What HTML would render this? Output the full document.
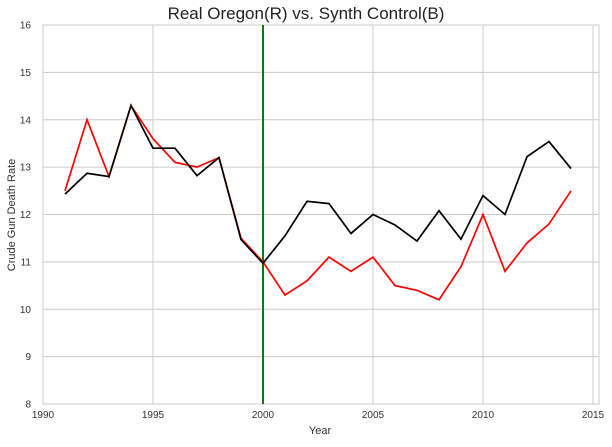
<!DOCTYPE html>
<html><head><meta charset="utf-8"><style>
body{margin:0;background:#fff;font-family:"Liberation Sans",sans-serif}
text{font-family:"Liberation Sans",sans-serif}
</style></head><body>
<svg id="c" width="612" height="442" xmlns="http://www.w3.org/2000/svg">
<text x="306" y="19" text-anchor="middle" font-size="17" fill="#222">Real Oregon(R) vs. Synth Control(B)</text>
<text x="320" y="434" text-anchor="middle" font-size="11" fill="#333">Year</text>
<text x="15" y="215" text-anchor="middle" font-size="11" fill="#333" transform="rotate(-90 15 215)">Crude Gun Death Rate</text>
<g id="grid"></g><g id="marks"></g>
</svg>
<script>
const years=[1991,1992,1993,1994,1995,1996,1997,1998,1999,2000,2001,2002,2003,2004,2005,2006,2007,2008,2009,2010,2011,2012,2013,2014];
const realOregon=[12.5,14.0,12.8,14.3,13.6,13.1,13.0,13.2,11.5,11.0,10.3,10.6,11.1,10.8,11.1,10.5,10.4,10.2,10.9,12.0,10.8,11.4,11.8,12.5];
const synthControl=[12.43,12.87,12.8,14.3,13.4,13.4,12.82,13.2,11.47,10.97,11.55,12.28,12.23,11.6,12.0,11.78,11.44,12.08,11.48,12.4,12.0,13.22,13.54,12.97];
const xTicks=[1990,1995,2000,2005,2010,2015];
const yTicks=[8,9,10,11,12,13,14,15,16];
const treatYear=2000;
const X=v=>43+(v-1990)*22, Y=v=>404-(v-8)*47.375;
const NS="http://www.w3.org/2000/svg";
const g=document.getElementById('grid'),m=document.getElementById('marks');
function el(p,t,a){const e=document.createElementNS(NS,t);for(const k in a)e.setAttribute(k,a[k]);p.appendChild(e);return e;}
const f=el(g,'rect',{x:43,y:25,width:556,height:379,fill:'none',stroke:'#ccc'});


xTicks.forEach(t=>{const l=el(g,'line',{x1:X(t),x2:X(t),y1:25,y2:404,stroke:'#ccc'});


const tx=el(g,'text',{x:X(t),y:418,'text-anchor':'middle','font-size':10,fill:'#333'});tx.textContent=t;

});
yTicks.forEach(t=>{const l=el(g,'line',{x1:43,x2:599,y1:Y(t),y2:Y(t),stroke:'#ccc'});


const tx=el(g,'text',{x:31,y:Y(t)+3.5,'text-anchor':'end','font-size':10,fill:'#333'});tx.textContent=t;

});
const v=el(m,'line',{x1:X(treatYear),x2:X(treatYear),y1:25,y2:404,stroke:'green','stroke-width':2});


const r=el(m,'polyline',{points:years.map((y,i)=>X(y)+','+Y(realOregon[i])).join(' '),fill:'none',stroke:'red','stroke-width':1.7});


const b=el(m,'polyline',{points:years.map((y,i)=>X(y)+','+Y(synthControl[i])).join(' '),fill:'none',stroke:'black','stroke-width':1.7});


</script>
</body></html>
